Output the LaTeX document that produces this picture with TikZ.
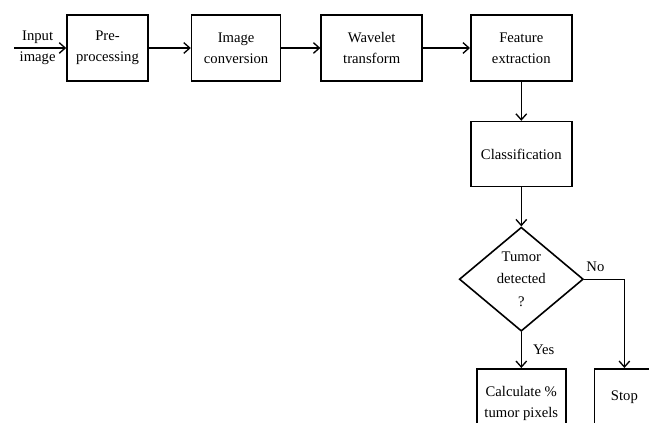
\documentclass[tikz,border=0pt]{standalone}
\usepackage{fontspec}
\setmainfont{Liberation Serif}
\usetikzlibrary{positioning, shapes.geometric, arrows.meta}

\begin{document}
\begin{tikzpicture}[font=\fontsize{11}{16}\selectfont,
    block/.style={draw, line width=1.2pt, align=center, inner sep=2pt, minimum height=49.5pt},
    decision/.style={draw, diamond, line width=1.2pt, align=center, inner sep=0pt,
                     font=\fontsize{11}{17}\selectfont,
                     minimum width=93pt, minimum height=77.25pt}]

    \clip (0,0) rectangle (486.75pt,-317.25pt);

    % Add the blocks
    \node[block, minimum width=60.75pt]                       (pre)   at (80.625pt,-36pt) {Pre-\\processing};
    \node[block, minimum width=66.75pt, right=31.5pt of pre]  (conv)  {Image\\conversion};
    \node[block, minimum width=75.75pt, right=29.25pt of conv] (wave)  {Wavelet\\transform};
    \node[block, minimum width=75.75pt, right=35.25pt of wave] (feat)  {Feature\\extraction};
    \node[block, minimum width=75.75pt, minimum height=48.75pt,
          below=29.25pt of feat]                               (class) {Classification};
    \node[decision, below=29.25pt of class]                    (tumor) {Tumor\\detected\\?};
    \node[block, minimum width=66.75pt, minimum height=52.5pt,
          below=27pt of tumor]                                 (calc)  {Calculate \%\\tumor pixels};
    \node[block, minimum width=45pt, minimum height=42.75pt,
          right=20.25pt of calc.north east, anchor=north west] (stop)  {Stop};
    \coordinate[left=39pt of pre] (input);

    % Connect the blocks with arrows
    \path[line width=1pt,
          -{Straight Barb[length=4.5pt,width=8pt]}]
        (input)  edge node[pos=0.45, align=center] {Input\\image} (pre)
        (pre)    edge (conv)
        (conv)   edge (wave)
        (wave)   edge (feat)
        (feat)   edge (class)
        (class)  edge (tumor)
        (tumor)  edge node[midway, right=5pt] {Yes} (calc);
    \draw[line width=1pt,
          -{Straight Barb[length=4.5pt,width=8pt]}]
        (tumor.east) -| node[pos=0.14, above=2pt] {No} (stop.north);
\end{tikzpicture}
\end{document}
